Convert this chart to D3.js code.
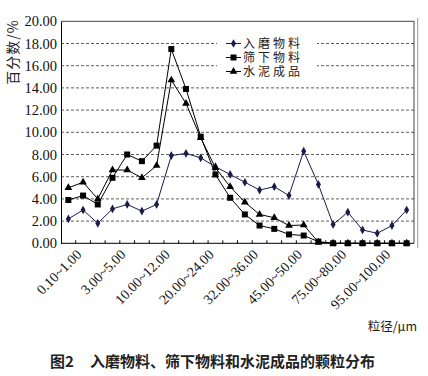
<!DOCTYPE html>
<html lang="zh">
<head>
<meta charset="UTF-8">
<title>颗粒分布</title>
<style>
  body { margin: 0; background: #fff; }
  svg { display: block; }
</style>
</head>
<body>
<svg id="chart" width="428" height="376"></svg>
<script src="https://cdn.jsdelivr.net/npm/d3@7/dist/d3.min.js"></script>
<script>
// particle size classes (um)
var categories = ["0.10~1.00","1.00~2.00","2.00~3.00","3.00~5.00","5.00~8.00","8.00~10.00",
  "10.00~12.00","12.00~16.00","16.00~20.00","20.00~24.00","24.00~28.00","28.00~32.00",
  "32.00~36.00","36.00~40.00","40.00~45.00","45.00~50.00","50.00~60.00","60.00~75.00",
  "75.00~80.00","80.00~90.00","90.00~95.00","95.00~100.00","100.00~120.00",">120.00"];

var rumo   = [2.2,3.0,1.8,3.1,3.5,2.9,3.5,7.9,8.1,7.7,6.9,6.2,5.5,4.8,5.1,4.3,8.3,5.3,1.7,2.8,1.2,0.9,1.6,3.0];
var shaixia = [3.9,4.3,3.5,5.9,8.0,7.4,8.8,17.5,13.9,9.6,6.2,4.1,2.6,1.6,1.3,0.8,0.7,0.15,0,0,0,0,0,0];
var chengpin = [5.0,5.5,4.0,6.6,6.6,5.9,7.0,14.7,12.6,9.5,6.8,5.1,3.7,2.6,2.3,1.6,1.65,0.1,0,0,0,0,0,0];

var seriesNames = ["入磨物料", "筛下物料", "水泥成品"];
var yTicks = [0,2,4,6,8,10,12,14,16,18,20];

var svg = d3.select("#chart");
var plotLeft = 61, plotRight = 414, plotTop = 21.3, plotBottom = 243.3;

var x = d3.scaleBand().domain(categories).range([plotLeft, plotRight]).paddingInner(0).paddingOuter(0);
var bw = x.bandwidth();
var cx = function(d){ return x(d) + bw / 2; };
var y = d3.scaleLinear().domain([0, 20]).range([plotBottom, plotTop]);

// dashed grid lines
svg.append("g").selectAll("line").data(yTicks.filter(function(d){ return d > 0 && d < 20; }))
  .enter().append("line")
  .attr("x1", plotLeft).attr("x2", plotRight)
  .attr("y1", function(d){ return y(d); }).attr("y2", function(d){ return y(d); })
  .attr("stroke", "#333").attr("stroke-width", 0.8).attr("stroke-dasharray", "3,2");

// top / right frame
svg.append("path")
  .attr("d", "M" + plotLeft + "," + y(20) + "H" + plotRight + "V" + plotBottom)
  .attr("fill", "none").attr("stroke", "#444").attr("stroke-width", 1);
// outer chart border line on the right
svg.append("line").attr("x1", 417.7).attr("x2", 417.7).attr("y1", 18).attr("y2", 248)
  .attr("stroke", "#999").attr("stroke-width", 1);

// legend background hides the grid behind it
svg.append("rect").attr("x", 217).attr("y", 34).attr("width", 100).attr("height", 44).attr("fill", "#fff");

// y axis
var yAxis = svg.append("g").attr("transform", "translate(" + plotLeft + ",0)")
  .call(d3.axisLeft(y).tickValues(yTicks).tickFormat(d3.format(".2f")).tickSize(0).tickPadding(4));
yAxis.select(".domain").attr("stroke", "#000");
yAxis.selectAll("text").attr("font-family", "Liberation Serif, serif").attr("font-size", 14.5).attr("fill", "#111");

// x axis line with ticks at class boundaries (pointing inward)
svg.append("line").attr("x1", plotLeft).attr("x2", plotRight).attr("y1", plotBottom).attr("y2", plotBottom)
  .attr("stroke", "#000").attr("stroke-width", 1);
svg.append("g").selectAll("line").data(categories.slice(1)).enter().append("line")
  .attr("x1", function(d){ return x(d); }).attr("x2", function(d){ return x(d); })
  .attr("y1", plotBottom).attr("y2", plotBottom - 3)
  .attr("stroke", "#000");

// x labels, every third class
svg.append("g").selectAll("text").data(categories.filter(function(d, i){ return i % 3 == 0; }))
  .enter().append("text")
  .attr("transform", function(d){ return "translate(" + (cx(d) + 14) + "," + (plotBottom + 12) + ") rotate(-45)"; })
  .attr("text-anchor", "end")
  .attr("font-family", "Liberation Serif, serif").attr("font-size", 14).attr("fill", "#111")
  .text(function(d){ return d; });

// series
var series = [
  { name: seriesNames[0], values: rumo, color: "#1b1b4d", shape: d3.symbolDiamond, size: 22 },
  { name: seriesNames[1], values: shaixia, color: "#000", shape: d3.symbolSquare, size: 36 },
  { name: seriesNames[2], values: chengpin, color: "#000", shape: d3.symbolTriangle, size: 26 }
];

var line = d3.line()
  .x(function(d, i){ return cx(categories[i]); })
  .y(function(d){ return y(d); });

series.forEach(function(s){
  svg.append("path").datum(s.values)
    .attr("d", line).attr("fill", "none").attr("stroke", s.color).attr("stroke-width", 1);
});
series.forEach(function(s){
  svg.append("g").selectAll("path").data(s.values).enter().append("path")
    .attr("transform", function(d, i){ return "translate(" + cx(categories[i]) + "," + y(d) + ")"; })
    .attr("d", d3.symbol().type(s.shape).size(s.size))
    .attr("fill", s.color);
});

// legend
var lg = svg.append("g").selectAll("g").data(series).enter().append("g")
  .attr("transform", function(d, i){ return "translate(226," + (43.5 + i * 14) + ")"; });
lg.append("line").attr("x1", 0).attr("x2", 15).attr("stroke", function(d){ return d.color; });
lg.append("path").attr("transform", "translate(7.5,0)")
  .attr("d", function(d){ return d3.symbol().type(d.shape).size(d.size)(); })
  .attr("fill", function(d){ return d.color; });
lg.append("text").attr("x", 17).attr("y", 4.2)
  .attr("font-family", "Noto Sans CJK SC, sans-serif").attr("font-size", 12)
  .attr("letter-spacing", 3).attr("fill", "#222")
  .text(function(d){ return d.name; });

// axis titles
svg.append("text").attr("transform", "translate(18,52) rotate(-90)")
  .attr("text-anchor", "middle")
  .attr("font-family", "Noto Sans CJK SC, sans-serif").attr("font-size", 14).attr("letter-spacing", 1).attr("fill", "#222")
  .text("百分数/%");
svg.append("text").attr("x", 417).attr("y", 331).attr("text-anchor", "end")
  .attr("font-family", "Noto Sans CJK SC, sans-serif").attr("font-size", 12.5).attr("fill", "#222")
  .text("粒径/μm");

// caption
svg.append("text").attr("x", 50).attr("y", 367)
  .attr("font-family", "Noto Sans CJK SC, sans-serif").attr("font-size", 15).attr("font-weight", "bold").attr("fill", "#222")
  .text("图2");
svg.append("text").attr("x", 90).attr("y", 367)
  .attr("font-family", "Noto Sans CJK SC, sans-serif").attr("font-size", 15).attr("font-weight", "bold").attr("fill", "#222")
  .text("入磨物料、筛下物料和水泥成品的颗粒分布");
</script>
</body>
</html>
